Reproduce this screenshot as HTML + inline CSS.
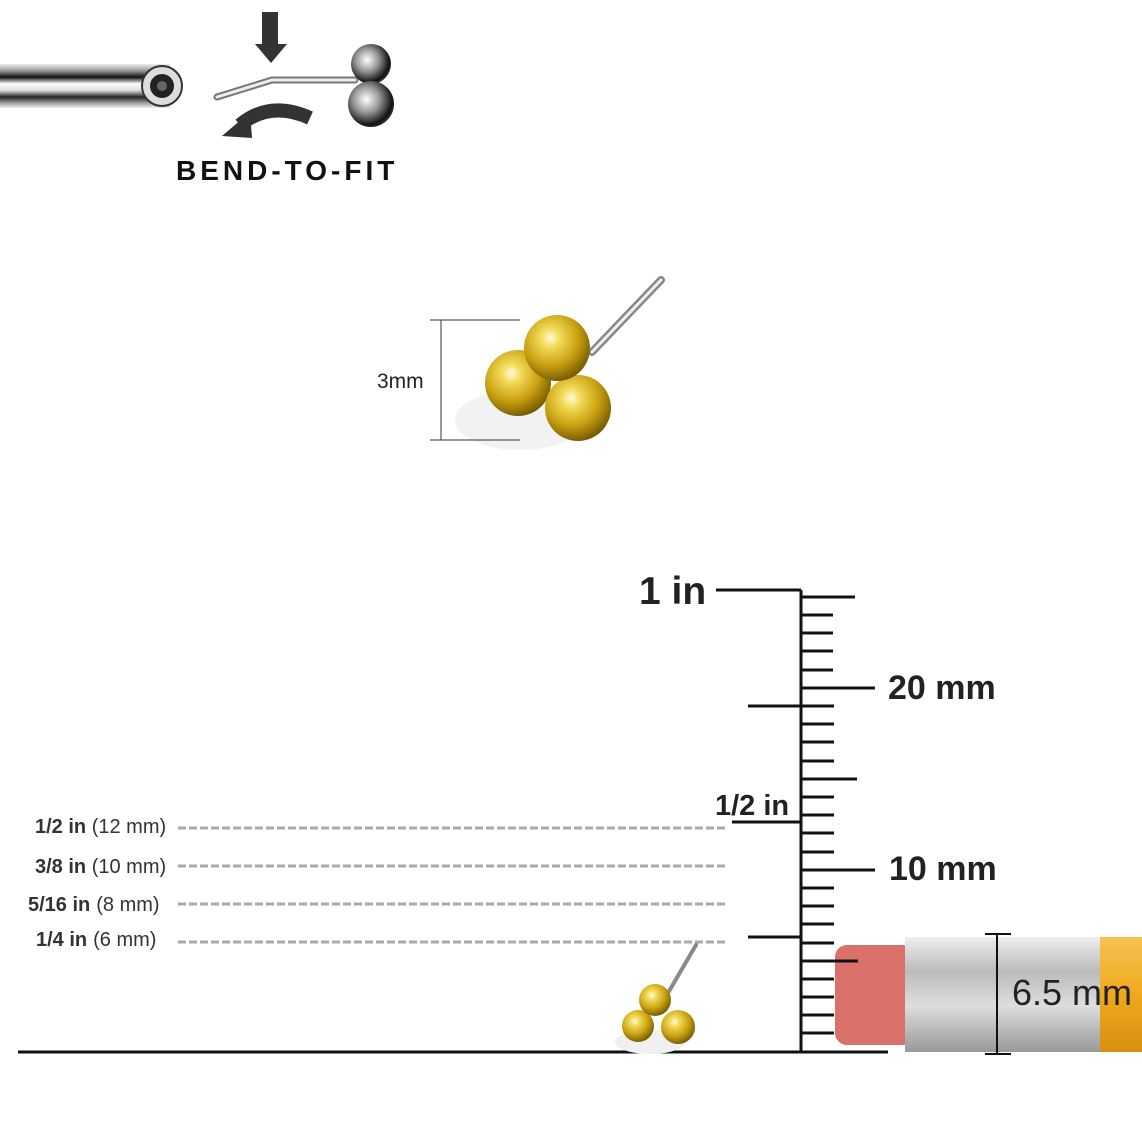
<!DOCTYPE html>
<html><head><meta charset="utf-8"><style>
html,body{margin:0;padding:0;background:#fff}
svg{display:block}
text{font-family:"Liberation Sans",sans-serif}
</style></head><body>
<svg width="1142" height="1142" viewBox="0 0 1142 1142" xmlns="http://www.w3.org/2000/svg">
<defs>
<linearGradient id="rod" x1="0" y1="0" x2="0" y2="1">
<stop offset="0" stop-color="#eee"/><stop offset=".15" stop-color="#999"/><stop offset=".3" stop-color="#111"/><stop offset=".45" stop-color="#fff"/><stop offset=".6" stop-color="#ddd"/><stop offset=".75" stop-color="#222"/><stop offset=".9" stop-color="#aaa"/><stop offset="1" stop-color="#eee"/>
</linearGradient>
<radialGradient id="gold" cx=".4" cy=".35" r=".7">
<stop offset="0" stop-color="#fffbe0"/><stop offset=".2" stop-color="#f3dc5a"/><stop offset=".6" stop-color="#c9a010"/><stop offset="1" stop-color="#6b5200"/>
</radialGradient>
<radialGradient id="silv" cx=".4" cy=".4" r=".7">
<stop offset="0" stop-color="#fff"/><stop offset=".4" stop-color="#999"/><stop offset=".8" stop-color="#111"/><stop offset="1" stop-color="#555"/>
</radialGradient>
<linearGradient id="ferr" x1="0" y1="0" x2="0" y2="1">
<stop offset="0" stop-color="#eee"/><stop offset=".3" stop-color="#bbb"/><stop offset=".6" stop-color="#ddd"/><stop offset="1" stop-color="#999"/>
</linearGradient>
<linearGradient id="wood" x1="0" y1="0" x2="0" y2="1">
<stop offset="0" stop-color="#f6c352"/><stop offset=".5" stop-color="#f0a820"/><stop offset="1" stop-color="#d98f10"/>
</linearGradient>
</defs>

<rect x="0" y="64" width="170" height="44" fill="url(#rod)"/>
<circle cx="162" cy="86" r="20" fill="#ddd" stroke="#333" stroke-width="2"/>
<circle cx="162" cy="86" r="12" fill="#222"/>
<circle cx="162" cy="86" r="5" fill="#666"/>
<rect x="262" y="12" width="16" height="34" fill="#333"/>
<polygon points="255,44 287,44 271,63" fill="#333"/>
<polyline points="217,97 272,80 355,80" fill="none" stroke="#777" stroke-width="7" stroke-linecap="round"/>
<polyline points="217,97 272,80 355,80" fill="none" stroke="#eee" stroke-width="3" stroke-linecap="round"/>
<circle cx="371" cy="64" r="20" fill="url(#silv)"/>
<circle cx="371" cy="104" r="23" fill="url(#silv)"/>
<path d="M310,118 Q270,100 240,125" fill="none" stroke="#333" stroke-width="14"/>
<polygon points="222,136 250,112 252,138" fill="#333"/>
<text x="176" y="180" font-size="28" font-weight="bold" letter-spacing="4" fill="#111">BEND-TO-FIT</text>

<line x1="592" y1="352" x2="661" y2="280" stroke="#888" stroke-width="8" stroke-linecap="round"/>
<line x1="592" y1="352" x2="661" y2="280" stroke="#eee" stroke-width="3" stroke-linecap="round"/>
<ellipse cx="520" cy="420" rx="65" ry="30" fill="#f2f2f2"/>
<line x1="430" y1="320" x2="520" y2="320" stroke="#333" stroke-width="1"/>
<line x1="430" y1="440" x2="520" y2="440" stroke="#333" stroke-width="1"/>
<line x1="441" y1="320" x2="441" y2="440" stroke="#333" stroke-width="1"/>
<text x="377" y="388" font-size="21" fill="#222">3mm</text>
<circle cx="518" cy="383" r="33" fill="url(#gold)"/>
<circle cx="578" cy="408" r="33" fill="url(#gold)"/>
<circle cx="557" cy="348" r="33" fill="url(#gold)"/>

<g stroke="#111" stroke-width="3">
<line x1="801" y1="590" x2="801" y2="1052"/>
<line x1="18" y1="1052" x2="888" y2="1052"/>
<line x1="716" y1="590" x2="801" y2="590"/>
<line x1="748" y1="706" x2="801" y2="706"/>
<line x1="732" y1="822" x2="801" y2="822"/>
<line x1="748" y1="937" x2="801" y2="937"/>
<line x1="801" y1="597" x2="855" y2="597"/>
<line x1="801" y1="615" x2="833" y2="615"/>
<line x1="801" y1="633" x2="833" y2="633"/>
<line x1="801" y1="651" x2="833" y2="651"/>
<line x1="801" y1="670" x2="833" y2="670"/>
<line x1="801" y1="688" x2="875" y2="688"/>
<line x1="801" y1="706" x2="834" y2="706"/>
<line x1="801" y1="724" x2="834" y2="724"/>
<line x1="801" y1="742" x2="834" y2="742"/>
<line x1="801" y1="761" x2="834" y2="761"/>
<line x1="801" y1="779" x2="857" y2="779"/>
<line x1="801" y1="797" x2="834" y2="797"/>
<line x1="801" y1="815" x2="834" y2="815"/>
<line x1="801" y1="833" x2="834" y2="833"/>
<line x1="801" y1="852" x2="834" y2="852"/>
<line x1="801" y1="870" x2="875" y2="870"/>
<line x1="801" y1="888" x2="834" y2="888"/>
<line x1="801" y1="906" x2="834" y2="906"/>
<line x1="801" y1="924" x2="834" y2="924"/>
<line x1="801" y1="943" x2="834" y2="943"/>
<line x1="801" y1="979" x2="834" y2="979"/>
<line x1="801" y1="997" x2="834" y2="997"/>
<line x1="801" y1="1015" x2="834" y2="1015"/>
<line x1="801" y1="1033" x2="834" y2="1033"/>
</g>
<text x="639" y="604" font-size="39" font-weight="bold" fill="#222">1 in</text>
<text x="888" y="699" font-size="34" font-weight="bold" fill="#222">20 mm</text>
<text x="889" y="880" font-size="34" font-weight="bold" fill="#222">10 mm</text>
<text x="715" y="815" font-size="29" font-weight="bold" fill="#222">1/2 in</text>

<rect x="835" y="945" width="80" height="100" rx="12" fill="#d9716a"/>
<rect x="905" y="937" width="200" height="115" fill="url(#ferr)"/>
<rect x="1100" y="937" width="42" height="115" fill="url(#wood)"/>
<line x1="801" y1="961" x2="858" y2="961" stroke="#111" stroke-width="3"/>
<g stroke="#111" stroke-width="2"><line x1="997" y1="934" x2="997" y2="1054"/><line x1="985" y1="934" x2="1011" y2="934"/><line x1="985" y1="1054" x2="1011" y2="1054"/></g>
<text x="1012" y="1005" font-size="36" fill="#222">6.5 mm</text>

<g stroke="#aaa" stroke-width="3" stroke-dasharray="8,3">
<line x1="178" y1="828" x2="728" y2="828"/>
<line x1="178" y1="866" x2="728" y2="866"/>
<line x1="178" y1="904" x2="728" y2="904"/>
<line x1="178" y1="942" x2="728" y2="942"/>
</g>
<g font-size="20" fill="#333">
<text x="35" y="833"><tspan font-weight="bold">1/2 in</tspan> (12 mm)</text>
<text x="35" y="873"><tspan font-weight="bold">3/8 in</tspan> (10 mm)</text>
<text x="28" y="911"><tspan font-weight="bold">5/16 in</tspan><tspan dx="6">(8 mm)</tspan></text>
<text x="36" y="946"><tspan font-weight="bold">1/4 in</tspan><tspan dx="6">(6 mm)</tspan></text>
</g>

<line x1="668" y1="993" x2="696" y2="945" stroke="#888" stroke-width="4" stroke-linecap="round"/>
<ellipse cx="650" cy="1042" rx="35" ry="12" fill="#f0f0f0"/>
<circle cx="638" cy="1026" r="16" fill="url(#gold)"/>
<circle cx="678" cy="1027" r="17" fill="url(#gold)"/>
<circle cx="655" cy="1000" r="16" fill="url(#gold)"/>
</svg>
</body></html>
